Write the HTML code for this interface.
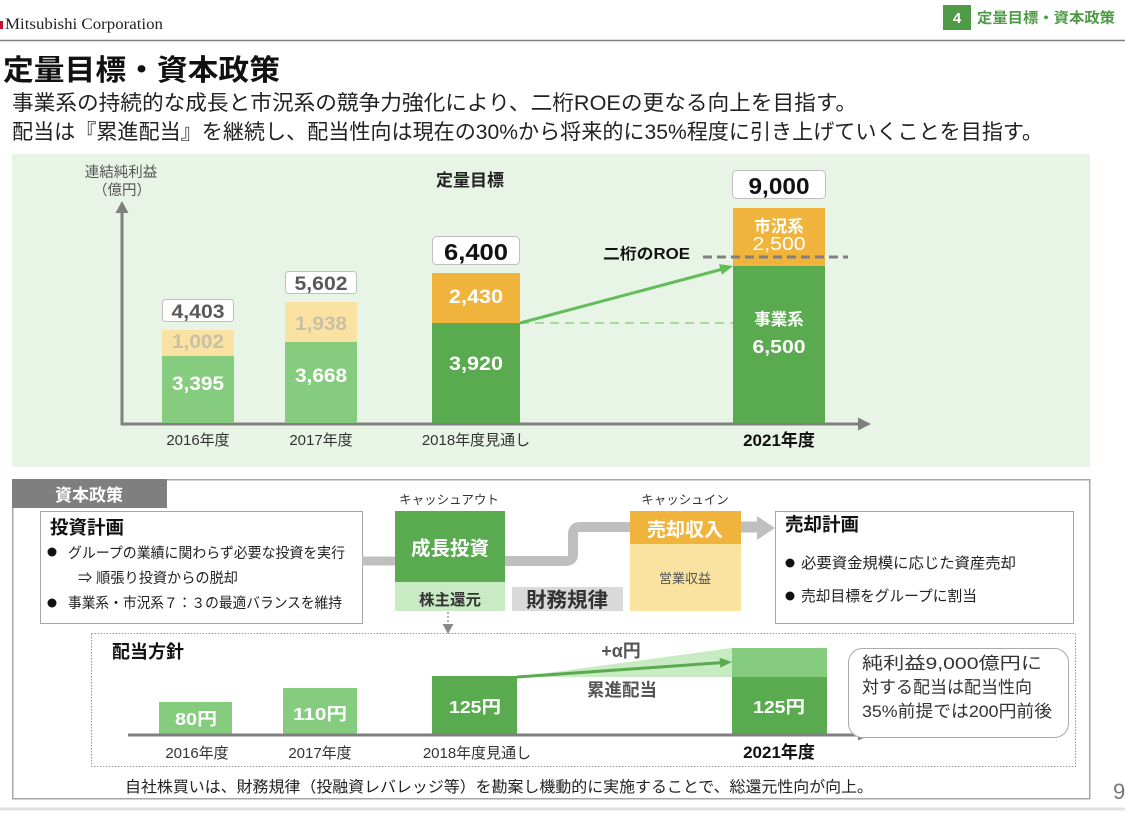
<!DOCTYPE html>
<html><head><meta charset="utf-8">
<style>
html,body{margin:0;padding:0;background:#fff;}
svg{display:block;}
text{font-family:"Liberation Sans","Noto Sans CJK JP",sans-serif;}
.b{font-weight:bold;}
</style></head>
<body>
<svg width="1125" height="813" viewBox="0 0 1125 813" xmlns="http://www.w3.org/2000/svg">
<rect x="0" y="0" width="1125" height="813" fill="#fff"/>

<!-- Header -->
<rect x="0" y="21" width="3" height="8" fill="#c8102e"/>
<text x="5" y="29" style="font-family:'Liberation Serif',serif" font-size="16" fill="#222" textLength="158" lengthAdjust="spacingAndGlyphs">Mitsubishi Corporation</text>
<line x1="0" y1="40.5" x2="1125" y2="40.5" stroke="#808080" stroke-width="1.5"/>
<rect x="943" y="5" width="28" height="25" fill="#4e9a47"/>
<text x="957" y="23" class="b" font-size="15" fill="#fff" text-anchor="middle">4</text>
<text x="977" y="23" class="b" font-size="14.5" fill="#4e9a47" textLength="138" lengthAdjust="spacingAndGlyphs">定量目標・資本政策</text>

<!-- Title -->
<text x="3" y="80" class="b" font-size="29" fill="#111" textLength="277" lengthAdjust="spacingAndGlyphs">定量目標・資本政策</text>
<text x="12" y="110" font-size="21" fill="#222" textLength="845" lengthAdjust="spacingAndGlyphs">事業系の持続的な成長と市況系の競争力強化により、二桁ROEの更なる向上を目指す。</text>
<text x="12" y="139" font-size="21" fill="#222" textLength="1031" lengthAdjust="spacingAndGlyphs">配当は『累進配当』を継続し、配当性向は現在の30%から将来的に35%程度に引き上げていくことを目指す。</text>

<!-- Green panel -->
<rect x="12" y="154" width="1078" height="313" fill="#e8f5e6"/>

<text x="121" y="177" font-size="14.5" fill="#555" text-anchor="middle">連結純利益</text>
<text x="122" y="195" font-size="14.5" fill="#555" text-anchor="middle">（億円）</text>
<text x="470" y="186" class="b" font-size="17" fill="#222" text-anchor="middle">定量目標</text>

<!-- axes -->
<line x1="122" y1="211" x2="122" y2="425" stroke="#7f7f7f" stroke-width="3"/>
<polygon points="122,201 115.5,213 128.5,213" fill="#7f7f7f"/>
<line x1="121" y1="424" x2="860" y2="424" stroke="#7f7f7f" stroke-width="3"/>
<polygon points="871,424 858,417.5 858,430.5" fill="#7f7f7f"/>

<!-- 2016 -->
<rect x="162" y="356" width="72" height="67" fill="#86cc7e"/>
<rect x="162" y="330" width="72" height="26" fill="#f9e2a2"/>
<rect x="162.5" y="299.5" width="71" height="22" rx="3" fill="#fff" stroke="#bfbfbf"/>
<text x="198" y="318" class="b" font-size="19" fill="#595959" text-anchor="middle" textLength="53" lengthAdjust="spacingAndGlyphs">4,403</text>
<text x="198" y="348" class="b" font-size="19" fill="#c9c0a6" text-anchor="middle" textLength="52" lengthAdjust="spacingAndGlyphs">1,002</text>
<text x="198" y="390" class="b" font-size="19" fill="#fff" text-anchor="middle" textLength="52" lengthAdjust="spacingAndGlyphs">3,395</text>

<!-- 2017 -->
<rect x="285" y="342" width="72" height="81" fill="#86cc7e"/>
<rect x="285" y="302" width="72" height="40" fill="#f9e2a2"/>
<rect x="285.5" y="271.5" width="71" height="22" rx="3" fill="#fff" stroke="#bfbfbf"/>
<text x="321" y="290" class="b" font-size="19" fill="#595959" text-anchor="middle" textLength="53" lengthAdjust="spacingAndGlyphs">5,602</text>
<text x="321" y="330" class="b" font-size="19" fill="#c9c0a6" text-anchor="middle" textLength="52" lengthAdjust="spacingAndGlyphs">1,938</text>
<text x="321" y="382" class="b" font-size="19" fill="#fff" text-anchor="middle" textLength="52" lengthAdjust="spacingAndGlyphs">3,668</text>

<!-- 2018 -->
<rect x="432" y="323" width="88" height="100" fill="#5aab50"/>
<rect x="432" y="273" width="88" height="50" fill="#f0b43c"/>
<rect x="432.5" y="236.5" width="87" height="28" rx="4" fill="#fff" stroke="#bfbfbf"/>
<text x="476" y="260" class="b" font-size="23" fill="#111" text-anchor="middle" textLength="64" lengthAdjust="spacingAndGlyphs">6,400</text>
<text x="476" y="303" class="b" font-size="19" fill="#fff" text-anchor="middle" textLength="54" lengthAdjust="spacingAndGlyphs">2,430</text>
<text x="476" y="370" class="b" font-size="19" fill="#fff" text-anchor="middle" textLength="54" lengthAdjust="spacingAndGlyphs">3,920</text>

<!-- connectors -->
<line x1="520" y1="323" x2="733" y2="323" stroke="#a9d9a0" stroke-width="2" stroke-dasharray="9,6"/>
<line x1="520" y1="323" x2="721" y2="269.5" stroke="#62bd58" stroke-width="3"/>
<polygon points="733,266 721.8,274.7 719,264.1" fill="#62bd58"/>

<!-- 2021 -->
<rect x="733" y="266" width="92" height="157" fill="#5aab50"/>
<rect x="733" y="208" width="92" height="58" fill="#f0b43c"/>
<rect x="732.5" y="170.5" width="93" height="28" rx="4" fill="#fff" stroke="#bfbfbf"/>
<text x="779" y="194" class="b" font-size="23" fill="#111" text-anchor="middle" textLength="61" lengthAdjust="spacingAndGlyphs">9,000</text>
<text x="779" y="232" class="b" font-size="16.5" fill="#fff" text-anchor="middle">市況系</text>
<text x="779" y="250" font-size="18" fill="#fff" text-anchor="middle" textLength="53" lengthAdjust="spacingAndGlyphs">2,500</text>
<text x="779" y="325" class="b" font-size="16.5" fill="#fff" text-anchor="middle">事業系</text>
<text x="779" y="353" class="b" font-size="18" fill="#fff" text-anchor="middle" textLength="53" lengthAdjust="spacingAndGlyphs">6,500</text>
<line x1="703" y1="257" x2="848" y2="257" stroke="#808080" stroke-width="3" stroke-dasharray="9,5"/>
<text x="603" y="259" class="b" font-size="15.5" fill="#111" textLength="87" lengthAdjust="spacingAndGlyphs">二桁のROE</text>

<!-- year labels -->
<text x="198" y="445" font-size="15" fill="#333" text-anchor="middle">2016年度</text>
<text x="321" y="445" font-size="15" fill="#333" text-anchor="middle">2017年度</text>
<text x="476" y="445" font-size="15" fill="#333" text-anchor="middle">2018年度見通し</text>
<text x="779" y="446" class="b" font-size="17" fill="#111" text-anchor="middle">2021年度</text>

<!-- Capital policy box -->
<rect x="12.75" y="479.75" width="1077" height="319" fill="#fff" stroke="#a6a6a6" stroke-width="1.5"/>
<rect x="12" y="479" width="155" height="29" fill="#7f7f7f"/>
<text x="89" y="501" class="b" font-size="17" fill="#fff" text-anchor="middle">資本政策</text>

<!-- 投資計画 -->
<rect x="40.5" y="511.5" width="322" height="112" fill="#fff" stroke="#a6a6a6"/>
<text x="50" y="534" class="b" font-size="18.5" fill="#111">投資計画</text>
<circle cx="52" cy="552" r="4.5" fill="#111"/>
<text x="68" y="558" font-size="14.5" fill="#222" textLength="277" lengthAdjust="spacingAndGlyphs">グループの業績に関わらず必要な投資を実行</text>
<text x="78" y="583" font-size="14.5" fill="#222" textLength="160" lengthAdjust="spacingAndGlyphs">⇒ 順張り投資からの脱却</text>
<circle cx="52" cy="603" r="4.5" fill="#111"/>
<text x="68" y="608" font-size="14.5" fill="#222" textLength="274" lengthAdjust="spacingAndGlyphs">事業系・市況系７：３の最適バランスを維持</text>

<!-- flow lines -->
<line x1="362" y1="561" x2="396" y2="561" stroke="#bfbfbf" stroke-width="9"/>
<path d="M505 561 H566 Q573 561 573 554 V534 Q573 527 580 527 H631" fill="none" stroke="#bfbfbf" stroke-width="10"/>
<line x1="740" y1="527" x2="760" y2="527" stroke="#bfbfbf" stroke-width="11"/>
<polygon points="775,528 757,516 757,540" fill="#bfbfbf"/>

<!-- cash out -->
<text x="449" y="504" font-size="12.5" fill="#333" text-anchor="middle">キャッシュアウト</text>
<rect x="395" y="511" width="110" height="71" fill="#5aab50"/>
<text x="450" y="555" class="b" font-size="19.5" fill="#fff" text-anchor="middle">成長投資</text>
<rect x="395" y="582" width="110" height="29" fill="#c9ebc4"/>
<text x="450" y="605" class="b" font-size="15.5" fill="#333" text-anchor="middle">株主還元</text>
<rect x="512" y="587" width="111" height="24" fill="#d9d9d9"/>
<text x="567" y="607" class="b" font-size="20.5" fill="#333" text-anchor="middle">財務規律</text>

<!-- cash in -->
<text x="685" y="504" font-size="12.5" fill="#333" text-anchor="middle">キャッシュイン</text>
<rect x="630" y="511" width="111" height="33" fill="#f0b43c"/>
<text x="685" y="536" class="b" font-size="19" fill="#fff" text-anchor="middle">売却収入</text>
<rect x="630" y="544" width="111" height="67" fill="#fae3a0"/>
<text x="685" y="583" font-size="13" fill="#555" text-anchor="middle">営業収益</text>

<!-- 売却計画 -->
<rect x="775.5" y="511.5" width="298" height="112" fill="#fff" stroke="#a6a6a6"/>
<text x="785" y="531" class="b" font-size="18.5" fill="#111">売却計画</text>
<circle cx="790" cy="563" r="4.5" fill="#111"/>
<text x="801" y="568" font-size="15" fill="#222" textLength="215" lengthAdjust="spacingAndGlyphs">必要資金規模に応じた資産売却</text>
<circle cx="790" cy="596" r="4.5" fill="#111"/>
<text x="801" y="601" font-size="15" fill="#222" textLength="176" lengthAdjust="spacingAndGlyphs">売却目標をグループに割当</text>

<!-- dotted arrow -->
<line x1="448" y1="612" x2="448" y2="626" stroke="#999" stroke-width="1.5" stroke-dasharray="2,2"/>
<polygon points="442.5,624 453.5,624 448,634" fill="#8a8a8a"/>

<!-- Dividend policy dotted box -->
<rect x="91.5" y="633.5" width="984" height="133" fill="none" stroke="#999" stroke-width="1" stroke-dasharray="1.5,1.5"/>
<text x="112" y="658" class="b" font-size="18" fill="#111">配当方針</text>

<rect x="159" y="702" width="73" height="33" fill="#86cc7e"/>
<text x="196" y="725" class="b" font-size="17.5" fill="#fff" text-anchor="middle" textLength="42" lengthAdjust="spacingAndGlyphs">80円</text>
<rect x="283" y="688" width="74" height="47" fill="#86cc7e"/>
<text x="320" y="720" class="b" font-size="17.5" fill="#fff" text-anchor="middle" textLength="54" lengthAdjust="spacingAndGlyphs">110円</text>
<rect x="432" y="676" width="85" height="59" fill="#5aab50"/>
<text x="475" y="713" class="b" font-size="17.5" fill="#fff" text-anchor="middle" textLength="52" lengthAdjust="spacingAndGlyphs">125円</text>

<polygon points="517,677 732,648 732,677" fill="#c9ebc4"/>
<rect x="732" y="648" width="95" height="29" fill="#86cc7e"/>
<rect x="732" y="677" width="95" height="58" fill="#5aab50"/>
<text x="779" y="713" class="b" font-size="17.5" fill="#fff" text-anchor="middle" textLength="52" lengthAdjust="spacingAndGlyphs">125円</text>
<line x1="517" y1="677" x2="720" y2="662.8" stroke="#5aab50" stroke-width="3"/>
<polygon points="732,662 720.3,667.8 719.6,657.8" fill="#5aab50"/>
<text x="621" y="657" class="b" font-size="18" fill="#555" text-anchor="middle">+α円</text>
<text x="622" y="696" class="b" font-size="17.5" fill="#555" text-anchor="middle">累進配当</text>

<line x1="128" y1="735" x2="860" y2="735" stroke="#7f7f7f" stroke-width="3"/>
<polygon points="870,735 858,729.5 858,740.5" fill="#7f7f7f"/>

<text x="197" y="758" font-size="15" fill="#333" text-anchor="middle">2016年度</text>
<text x="320" y="758" font-size="15" fill="#333" text-anchor="middle">2017年度</text>
<text x="477" y="758" font-size="15" fill="#333" text-anchor="middle">2018年度見通し</text>
<text x="779" y="758" class="b" font-size="17" fill="#111" text-anchor="middle">2021年度</text>

<!-- bubble -->
<rect x="848.5" y="648.5" width="220" height="89" rx="14" fill="#fff" stroke="#aaa"/>
<text x="862" y="669" font-size="17" fill="#333" textLength="180" lengthAdjust="spacingAndGlyphs">純利益9,000億円に</text>
<text x="862" y="693" font-size="17" fill="#333" textLength="170" lengthAdjust="spacingAndGlyphs">対する配当は配当性向</text>
<text x="862" y="717" font-size="17" fill="#333" textLength="190" lengthAdjust="spacingAndGlyphs">35%前提では200円前後</text>

<text x="125" y="792" font-size="15.5" fill="#222" textLength="748" lengthAdjust="spacingAndGlyphs">自社株買いは、財務規律（投融資レバレッジ等）を勘案し機動的に実施することで、総還元性向が向上。</text>

<text x="1113" y="799" font-size="22" fill="#777">9</text>
<line x1="0" y1="809" x2="1125" y2="809" stroke="#e0e0e0" stroke-width="3"/>
</svg>
</body></html>
